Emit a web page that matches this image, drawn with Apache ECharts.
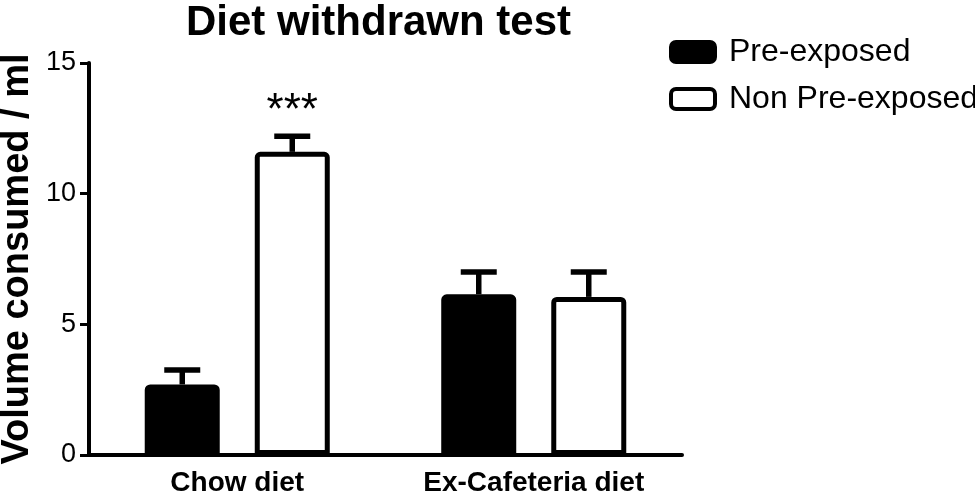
<!DOCTYPE html>
<html>
<head>
<meta charset="utf-8">
<title>Diet withdrawn test</title>
<script src="https://cdn.jsdelivr.net/npm/echarts@6/dist/echarts.min.js"></script>
<style>
  html, body { margin: 0; padding: 0; background: #fff; }
  #chart { width: 975px; height: 497px; }
</style>
</head>
<body>
<div id="chart"></div>
<script>
// data
const categories = ['Chow diet', 'Ex-Cafeteria diet'];
const groupNames = ['Pre-exposed', 'Non Pre-exposed'];
const preExposed = [2.7, 6.15];
const preExposedSem = [0.55, 0.85];
const nonPreExposed = [11.6, 6.05];
const nonPreExposedSem = [0.6, 0.95];
const sigLabels = ['', ''];
const nonSigLabels = ['***', ''];
const yTicks = [0, 5, 10, 15];

const font = "'Liberation Sans', Arial, sans-serif";
const barW = 75;
const barOffset = 55; // half distance between bar centres in a group

const chart = echarts.init(document.getElementById('chart'));

// error bar (upper only) + optional significance stars
function errorBar(offset) {
  return function (params, api) {
    const x = api.value(0);
    const v = api.value(1);
    const e = api.value(2);
    const base = api.coord([x, v]);
    const top = api.coord([x, v + e]);
    const cx = base[0] + offset;
    const style = { stroke: '#000', lineWidth: 5.5 };
    const children = [
      { type: 'line', shape: { x1: cx, y1: base[1], x2: cx, y2: top[1] }, style: style },
      { type: 'line', shape: { x1: cx - 18, y1: top[1], x2: cx + 18, y2: top[1] }, style: style }
    ];
    const sig = api.value(3);
    if (sig) {
      children.push({
        type: 'text',
        style: {
          text: sig, x: cx, y: top[1] - 2,
          align: 'center', verticalAlign: 'bottom',
          font: '44px ' + font, fill: '#000'
        }
      });
    }
    return { type: 'group', children: children };
  };
}

function errData(vals, sems, sigs) {
  return vals.map((v, i) => [i, v, sems[i], sigs[i]]);
}

chart.setOption({
  animation: false,
  title: {
    text: 'Diet withdrawn test',
    left: 186,
    top: 2,
    padding: 0,
    textStyle: { fontFamily: font, fontWeight: 'bold', fontSize: 42, color: '#000' }
  },
  legend: {
    orient: 'vertical',
    left: 664,
    top: 31,
    itemWidth: 44,
    itemHeight: 20,
    itemGap: 15,
    data: groupNames,
    itemStyle: { borderWidth: 4 },
    textStyle: { fontFamily: font, fontSize: 32, lineHeight: 30, color: '#000', padding: [0, 0, 0, 9] }
  },
  grid: { left: 89, right: 293, top: 63, bottom: 42, containLabel: false, outerBoundsMode: 'none' },
  xAxis: {
    type: 'category',
    data: categories,
    axisLine: { lineStyle: { color: '#000', width: 4 } },
    axisTick: { alignWithLabel: true, length: 10, lineStyle: { color: '#000', width: 3 } },
    axisLabel: { fontFamily: font, fontWeight: 'bold', fontSize: 28, color: '#000', margin: 14 }
  },
  yAxis: {
    type: 'value',
    min: yTicks[0],
    max: yTicks[yTicks.length - 1],
    interval: 5,
    name: 'Volume consumed / ml',
    nameLocation: 'middle',
    nameGap: 52,
    nameMoveOverlap: false,
    nameTextStyle: { fontFamily: font, fontWeight: 'bold', fontSize: 38, color: '#000' },
    axisLine: { show: true, lineStyle: { color: '#000', width: 4 } },
    axisTick: { show: true, length: 9, lineStyle: { color: '#000', width: 3 } },
    axisLabel: { fontFamily: font, fontSize: 27, color: '#000', margin: 13 },
    splitLine: { show: false }
  },
  series: [
    {
      name: groupNames[0],
      type: 'bar',
      data: preExposed,
      barWidth: barW,
      barGap: '46.7%',
      itemStyle: { color: '#000', borderColor: '#000', borderWidth: 5, borderRadius: [3, 3, 0, 0] }
    },
    {
      name: groupNames[1],
      type: 'bar',
      data: nonPreExposed,
      barWidth: barW,
      itemStyle: { color: '#fff', borderColor: '#000', borderWidth: 5, borderRadius: [3, 3, 0, 0] }
    },
    {
      type: 'custom',
      renderItem: errorBar(-barOffset),
      data: errData(preExposed, preExposedSem, sigLabels),
      z: 3
    },
    {
      type: 'custom',
      renderItem: errorBar(barOffset),
      data: errData(nonPreExposed, nonPreExposedSem, nonSigLabels),
      z: 3
    }
  ]
});
</script>
</body>
</html>
